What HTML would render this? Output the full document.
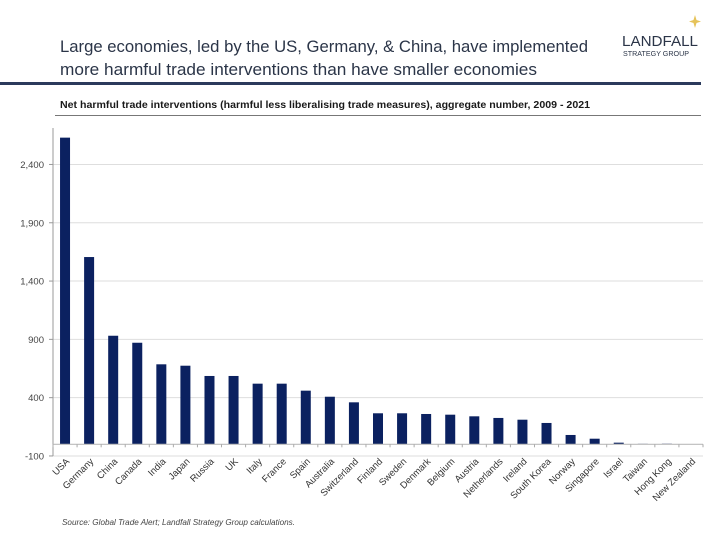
<!DOCTYPE html>
<html><head><meta charset="utf-8">
<style>
body{margin:0;background:#fff;}
svg{display:block;font-family:"Liberation Sans",sans-serif;}
</style></head>
<body>
<svg id="chart" width="720" height="540" viewBox="0 0 720 540">
  <text x="60" y="52" font-size="17" fill="#2b3548" textLength="528" lengthAdjust="spacingAndGlyphs">Large economies, led by the US, Germany, &amp; China, have implemented</text>
  <text x="60" y="75" font-size="17" fill="#2b3548" textLength="477" lengthAdjust="spacingAndGlyphs">more harmful trade interventions than have smaller economies</text>
  <rect x="0" y="82" width="701" height="3" fill="#2b3a5c"/>
  <g>
    <text x="622" y="46" font-size="15" fill="#2b3548" textLength="76" lengthAdjust="spacingAndGlyphs">LANDFALL</text>
    <text x="623" y="56" font-size="7" fill="#2b3548" textLength="66" lengthAdjust="spacingAndGlyphs">STRATEGY GROUP</text>
    <path d="M695,15 L696.5,20 L701,21.5 L696.5,23 L695,28 L693.5,23 L689,21.5 L693.5,20 Z" fill="#e6c35a"/>
  </g>
  <text x="60" y="108" font-size="10.5" font-weight="bold" fill="#1a1a1a" textLength="530" lengthAdjust="spacingAndGlyphs">Net harmful trade interventions (harmful less liberalising trade measures), aggregate number, 2009 - 2021</text>
  <rect x="55" y="115" width="646" height="1" fill="#777"/>
  <g id="plot"></g>
  <text x="62" y="525" font-size="8" font-style="italic" fill="#444" textLength="233" lengthAdjust="spacingAndGlyphs">Source: Global Trade Alert; Landfall Strategy Group calculations.</text>
</svg>
<script>
const categories = ["USA","Germany","China","Canada","India","Japan","Russia","UK","Italy","France","Spain","Australia","Switzerland","Finland","Sweden","Denmark","Belgium","Austria","Netherlands","Ireland","South Korea","Norway","Singapore","Israel","Taiwan","Hong Kong","New Zealand"];
const values = [2630,1606,931,871,686,674,586,586,520,520,460,408,360,266,266,260,254,240,226,211,183,80,48,14,4,5,0];
const yTicks = [-100,400,900,1400,1900,2400];
const yTickLabels = ["-100","400","900","1,400","1,900","2,400"];

const NS = "http://www.w3.org/2000/svg";
const plot = document.getElementById('plot');
const left = 53, right = 703;
const y0px = 444.3, pxPerUnit = 0.1166;
function y(v){ return y0px - v * pxPerUnit; }
const band = (right - left) / categories.length;
function xc(i){ return left + band * (i + 0.5); }
function mk(tag, attrs){ const e = document.createElementNS(NS, tag); for (const k in attrs) e.setAttribute(k, attrs[k]); plot.appendChild(e); return e; }

yTicks.forEach((t, i) => {
  const g = mk('line', {x1: left, x2: right, y1: y(t), y2: y(t), stroke: '#dedede', 'stroke-width': 1});
  
  
  const tk = mk('line', {x1: left - 4, x2: left, y1: y(t), y2: y(t), stroke: '#999', 'stroke-width': 1});
  
  
  const lb = mk('text', {x: 44, y: y(t) + 3.5, 'font-size': 9.5, fill: '#444', 'text-anchor': 'end'});
  lb.textContent = yTickLabels[i];
  
  
});

const ya = mk('line', {x1: left, x2: left, y1: 128, y2: y(-100), stroke: '#999', 'stroke-width': 1});



categories.forEach((c, i) => {
  const v = values[i];
  const bw = 10;
  const top = Math.min(y(v), y(0)), h = Math.abs(y(0) - y(v));
  const b = mk('rect', {x: xc(i) - bw / 2, y: top, width: bw, height: Math.max(h, 0), fill: '#0b2160'});
  
  
});

const xa = mk('line', {x1: left, x2: right, y1: y(0), y2: y(0), stroke: '#bbb', 'stroke-width': 1.2});


for (let i = 0; i <= categories.length; i++) {
  const xt = left + band * i;
  const t = mk('line', {x1: xt, x2: xt, y1: y(0), y2: y(0) + 3, stroke: '#aaa', 'stroke-width': 1});
  
  
}
categories.forEach((c, i) => {
  const lx = xc(i) + 5, ly = 462;
  const l = mk('text', {x: lx, y: ly, 'font-size': 9.5, fill: '#333', 'text-anchor': 'end', transform: `rotate(-45 ${lx} ${ly})`});
  l.textContent = c;
  
  
});
</script>
</body></html>
